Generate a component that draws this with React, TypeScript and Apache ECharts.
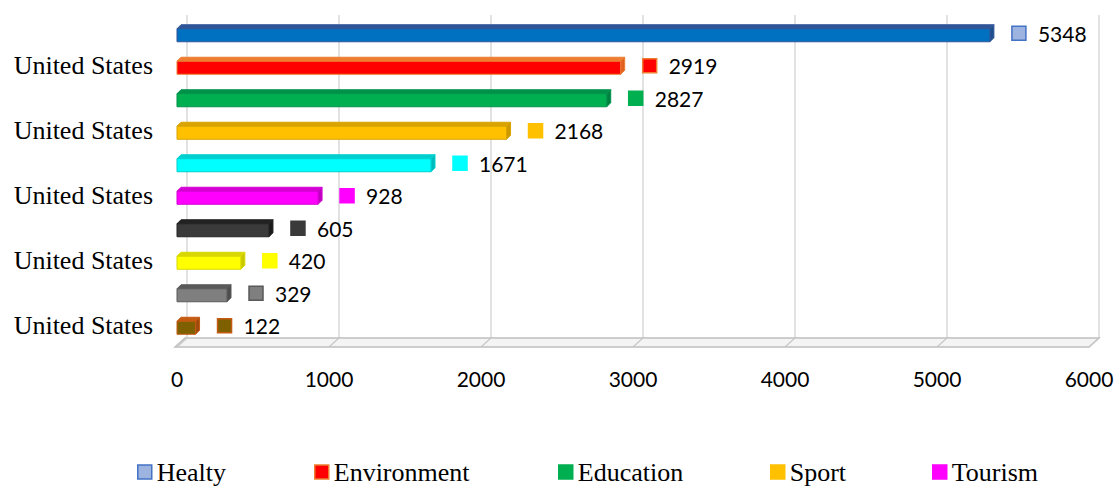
import React, { useEffect, useRef } from 'react';
import * as echarts from 'echarts';

// ---- data ----
const categories = [
  'United States', 'United States', 'United States', 'United States', 'United States',
  'United States', 'United States', 'United States', 'United States', 'United States',
];
const seriesNames = [
  'Healty', 'Environment', 'Education', 'Sport', 'Series 5',
  'Tourism', 'Series 7', 'Series 8', 'Series 9', 'Series 10',
];
const values = [5348, 2919, 2827, 2168, 1671, 928, 605, 420, 329, 122];
const legendNames = ['Healty', 'Environment', 'Education', 'Sport', 'Tourism'];
const xTicks = [0, 1000, 2000, 3000, 4000, 5000, 6000];

// ---- styles ----
const faceColors = ['#0070C0', '#FF0000', '#00B050', '#FFC000', '#00FFFF', '#FF00FF', '#3A3A3A', '#FFFF00', '#7F7F7F', '#7F6000'];
const edgeColors = ['#2F5597', '#ED7D31', '#00924A', '#D9A300', '#00CFCF', '#D400D4', '#222222', '#D8D800', '#5A5A5A', '#C55A11'];
const sideColors = ['#1F4E8C', '#E06020', '#008040', '#CC9900', '#00BBBB', '#C000C0', '#1A1A1A', '#C8C800', '#4D4D4D', '#A04A10'];
const markerFill = ['#9DB3E0', '#FF0000', '#00B050', '#FFC000', '#00FFFF', '#FF00FF', '#3A3A3A', '#FFFF00', '#7F7F7F', '#7F6000'];
const markerBorder = ['#4472C4', '#ED7D31', '#00B050', '#FFC000', '#00FFFF', '#FF00FF', '#3A3A3A', '#FFFF00', '#595959', '#C55A11'];
const legendLeft = [137, 314, 558, 770, 932];

const NUM_FONT = 'Lato, "Open Sans", sans-serif';
const SERIF_FONT = '"Liberation Serif", "Times New Roman", serif';

function makeBarRenderer(i: number) {
  return (params: any, api: any) => {
    const v = api.value(0);
    const c = api.value(1);
    const end = api.coord([v, c]);
    const start = api.coord([0, c]);
    const h = 13;
    const d = 4;
    const x0 = start[0];
    const x1 = end[0];
    const yc = end[1];
    const top = yc - h / 2 + 2;
    const bottom = top + h;
    const gap = 18;
    const sq = 14;
    const sqX = x1 + d + gap;
    return {
      type: 'group',
      children: [
        {
          type: 'polygon',
          shape: { points: [[x0, top], [x0 + d, top - d], [x1 + d, top - d], [x1, top]] },
          style: { fill: edgeColors[i], stroke: edgeColors[i], lineWidth: 1 },
        },
        {
          type: 'polygon',
          shape: { points: [[x1, top], [x1 + d, top - d], [x1 + d, bottom - d], [x1, bottom]] },
          style: { fill: sideColors[i], stroke: edgeColors[i], lineWidth: 1 },
        },
        {
          type: 'rect',
          shape: { x: x0, y: top, width: x1 - x0, height: h },
          style: { fill: faceColors[i], stroke: edgeColors[i], lineWidth: 1 },
        },
        {
          type: 'rect',
          shape: { x: sqX, y: yc - sq / 2, width: sq, height: sq },
          style: { fill: markerFill[i], stroke: markerBorder[i], lineWidth: 1.5 },
        },
        {
          type: 'text',
          x: sqX + sq + 12,
          y: yc,
          style: {
            text: String(v),
            fill: '#000',
            fontSize: 21,
            fontFamily: NUM_FONT,
            verticalAlign: 'middle',
            align: 'left',
          },
        },
      ],
    };
  };
}

function floorRenderer(params: any, api: any) {
  const cs = params.coordSys;
  const front = cs.y + cs.height + 5;
  const back = cs.y + cs.height - 4;
  const dx = 10;
  const xl = cs.x;
  const xr = cs.x + cs.width;
  const children: any[] = [
    {
      type: 'polygon',
      shape: { points: [[xl - 2, front], [xl - 2 + dx, back], [xr + dx, back], [xr, front]] },
      style: { fill: '#F4F4F4', stroke: '#BFBFBF', lineWidth: 1.5 },
    },
  ];
  xTicks.forEach((t) => {
    const px = api.coord([t, 0])[0];
    children.push({
      type: 'line',
      shape: { x1: px, y1: front, x2: px + dx, y2: back },
      style: { stroke: '#C8C8C8', lineWidth: 1.2 },
    });
  });
  return { type: 'group', children };
}

export default function App() {
  const ref = useRef<HTMLDivElement>(null);

  useEffect(() => {
    if (!ref.current) return;
    const chart = echarts.init(ref.current, undefined, { renderer: 'svg' });

    const barSeries = values.map((v, i) => ({
      type: 'custom',
      name: seriesNames[i],
      xAxisIndex: 0,
      yAxisIndex: 0,
      z: 3,
      itemStyle: { color: markerFill[i], borderColor: markerBorder[i], borderWidth: 1.5 },
      encode: { x: 0, y: 1 },
      data: [[v, i]],
      renderItem: makeBarRenderer(i),
    }));

    const option: any = {
      animation: false,
      backgroundColor: '#fff',
      grid: [
        { left: 177, top: 17, width: 912, height: 325 },
        { left: 187, top: 15, width: 912, height: 323 },
      ],
      xAxis: [
        {
          gridIndex: 0,
          type: 'value',
          min: 0,
          max: 6000,
          interval: 1000,
          axisLine: { show: false },
          axisTick: { show: false },
          splitLine: { show: false },
          axisLabel: {
            fontFamily: NUM_FONT,
            fontSize: 21,
            color: '#000',
            margin: 26,
            formatter: (v: number) => String(v),
          },
        },
        {
          gridIndex: 1,
          type: 'value',
          min: 0,
          max: 6000,
          interval: 1000,
          axisLine: { show: false },
          axisTick: { show: false },
          axisLabel: { show: false },
          splitLine: { show: true, lineStyle: { color: '#D9D9D9', width: 1.5 } },
        },
      ],
      yAxis: [
        {
          gridIndex: 0,
          type: 'category',
          data: categories,
          inverse: true,
          axisLine: { show: false },
          axisTick: { show: false },
          splitLine: { show: false },
          axisLabel: {
            interval: (index: number) => index % 2 === 1,
            fontFamily: SERIF_FONT,
            fontSize: 26,
            color: '#000',
            margin: 24,
          },
        },
        {
          gridIndex: 1,
          type: 'category',
          data: categories,
          inverse: true,
          show: false,
        },
      ],
      legend: legendNames.map((n, k) => {
        const i = seriesNames.indexOf(n);
        return {
          data: [
            {
              name: n,
              icon: 'rect',
              itemStyle: { color: markerFill[i], borderColor: markerBorder[i], borderWidth: 1.5 },
            },
          ],
          left: legendLeft[k],
          top: 459,
          padding: 0,
          itemWidth: 14,
          itemHeight: 14,
          selectedMode: false,
          textStyle: { fontFamily: SERIF_FONT, fontSize: 26, color: '#000' },
        };
      }),
      series: [
        {
          type: 'custom',
          name: '__floor',
          xAxisIndex: 0,
          yAxisIndex: 0,
          z: 1,
          silent: true,
          encode: { x: 0, y: 1 },
          data: [[0, 0]],
          renderItem: floorRenderer,
        },
        ...barSeries,
      ],
    };

    chart.setOption(option);
    return () => {
      chart.dispose();
    };
  }, []);

  return (
    <div
      ref={ref}
      style={{ position: 'absolute', left: 0, top: 0, width: 1119, height: 486 }}
    />
  );
}
